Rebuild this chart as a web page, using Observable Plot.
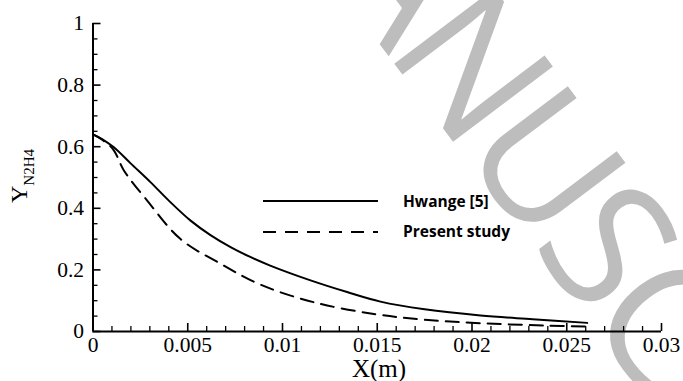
<!DOCTYPE html>
<html>
<head>
<meta charset="utf-8">
<script src="https://cdn.jsdelivr.net/npm/d3@7"></script>
<script src="https://cdn.jsdelivr.net/npm/@observablehq/plot@0.6"></script>
<style>
  html, body { margin: 0; padding: 0; background: #fff; }
  #wrap { position: relative; width: 683px; height: 381px; overflow: hidden; background: #fff; }
  #wrap > svg { position: absolute; left: 0; top: 0; }
</style>
</head>
<body>
<div id="wrap"></div>
<script>
// ---- data ----
const hwangX = [0, 0.0005, 0.0011, 0.002, 0.00303, 0.004, 0.00515, 0.0062, 0.00726, 0.0083, 0.00935, 0.01148, 0.01341, 0.01517, 0.0175, 0.02045, 0.0232, 0.02608];
const hwangY = [0.640, 0.624, 0.598, 0.545, 0.485, 0.425, 0.360, 0.313, 0.274, 0.242, 0.214, 0.166, 0.128, 0.097, 0.072, 0.052, 0.040, 0.028];
const presentX = [0, 0.0005, 0.00108, 0.00163, 0.00286, 0.00462, 0.00673, 0.00884, 0.01165, 0.01482, 0.0175, 0.02045, 0.02397, 0.02608];
const presentY = [0.640, 0.622, 0.590, 0.523, 0.425, 0.300, 0.220, 0.152, 0.095, 0.057, 0.038, 0.027, 0.019, 0.016];
const seriesNames = ["Hwange [5]", "Present study"];
const xTicks = [0, 0.005, 0.01, 0.015, 0.02, 0.025, 0.03];
const xTickLabels = ["0", "0.005", "0.01", "0.015", "0.02", "0.025", "0.03"];
const yTicks = [0, 0.2, 0.4, 0.6, 0.8, 1];
const yTickLabels = ["0", "0.2", "0.4", "0.6", "0.8", "1"];
const xMinorTicks = d3.range(0, 0.03001, 0.001).filter(v => xTicks.every(t => Math.abs(t - v) > 1e-9));
const yMinorTicks = d3.range(0, 1.0001, 0.05).filter(v => yTicks.every(t => Math.abs(t - v) > 1e-9));
const xLabel = "X(m)";
const yLabelMain = "Y";
const yLabelSub = "N2H4";
const watermarkText = "MANUSCRIPT";

// ---- layout ----
const W = 683, H = 381;
const ML = 92.5, MR = 22, MT = 23, MB = 50;
const xPerPx = 0.03 / (W - ML - MR);
const yPerPx = 1 / (H - MT - MB);
const majorLen = 8, minorLen = 5;

const hwang = hwangX.map((x, i) => ({x, y: hwangY[i]}));
const present = presentX.map((x, i) => ({x, y: presentY[i]}));

const wrap = document.getElementById("wrap");
const ns = "http://www.w3.org/2000/svg";

// watermark (behind the chart), clipped by the picture edge like the reference
const wm = document.createElementNS(ns, "svg");
wm.setAttribute("width", W); wm.setAttribute("height", H);
wrap.appendChild(wm);
const wt = document.createElementNS(ns, "text");
wt.textContent = watermarkText;
wt.setAttribute("font-family", "'Open Sans', sans-serif");
wt.setAttribute("font-size", 175);
wt.setAttribute("font-weight", 400);
wt.setAttribute("letter-spacing", -8);
wt.setAttribute("fill", "#bdbdbd");
wm.appendChild(wt);
const nIdx = watermarkText.indexOf("N");
const nPos = wt.getStartPositionOfChar(nIdx);
wt.setAttribute("transform", `translate(384,50) rotate(53) translate(${-nPos.x},0)`);

const font = "'Liberation Serif', 'Times New Roman', serif";
const plot = Plot.plot({
  width: W, height: H,
  marginLeft: ML, marginRight: MR, marginTop: MT, marginBottom: MB,
  x: {domain: [0, 0.03]},
  y: {domain: [0, 1]},
  style: {background: "transparent", fontFamily: font, fontSize: "21.5px", color: "#000", overflow: "visible"},
  marks: [
    Plot.axisX({ticks: xTicks, tickSize: 0, tickPadding: 5, tickFormat: d => xTickLabels[xTicks.indexOf(d)], label: null, fontSize: 21.5}),
    Plot.axisY({ticks: yTicks, tickSize: 0, tickPadding: 9, tickFormat: d => yTickLabels[yTicks.indexOf(d)], label: null, fontSize: 21.5}),
    Plot.ruleX(xMinorTicks, {x: d => d, y1: 0, y2: minorLen * yPerPx, stroke: "#000", strokeWidth: 1.3}),
    Plot.ruleX(xTicks, {x: d => d, y1: 0, y2: majorLen * yPerPx, stroke: "#000", strokeWidth: 1.6}),
    Plot.ruleY(yMinorTicks, {y: d => d, x1: 0, x2: minorLen * xPerPx, stroke: "#000", strokeWidth: 1.3}),
    Plot.ruleY(yTicks, {y: d => d, x1: 0, x2: majorLen * xPerPx, stroke: "#000", strokeWidth: 1.6}),
    Plot.ruleY([0], {x1: 0, x2: 0.03, stroke: "#000", strokeWidth: 2}),
    Plot.ruleX([0], {y1: 0, y2: 1, stroke: "#000", strokeWidth: 2}),
    Plot.line(hwang, {x: "x", y: "y", stroke: "#000", strokeWidth: 2, curve: "catmull-rom"}),
    Plot.line(present, {x: "x", y: "y", stroke: "#000", strokeWidth: 2, strokeDasharray: "13,8", curve: "catmull-rom"})
  ]
});
wrap.appendChild(plot);

// front overlay: axis titles + legend
const fo = document.createElementNS(ns, "svg");
fo.setAttribute("width", W); fo.setAttribute("height", H);
wrap.appendChild(fo);
function el(name, attrs, text) {
  const e = document.createElementNS(ns, name);
  for (const k in attrs) e.setAttribute(k, attrs[k]);
  if (text != null) e.textContent = text;
  return e;
}
fo.appendChild(el("text", {x: 379, y: 377, "text-anchor": "middle", "font-family": font, "font-size": 25}, xLabel));
const yl = el("text", {transform: "translate(27,176) rotate(-90)", "text-anchor": "middle", "font-family": font, "font-size": 24});
yl.appendChild(el("tspan", {}, yLabelMain));
yl.appendChild(el("tspan", {dy: 7, "font-size": 15}, yLabelSub));
fo.appendChild(yl);
// legend
const legendFont = "'Open Sans', sans-serif";
fo.appendChild(el("line", {x1: 263, x2: 378, y1: 201, y2: 201, stroke: "#000", "stroke-width": 2}));
fo.appendChild(el("line", {x1: 263, x2: 378, y1: 232, y2: 232, stroke: "#000", "stroke-width": 2, "stroke-dasharray": "13,9"}));
fo.appendChild(el("text", {x: 403, y: 201, dy: "0.36em", "font-family": legendFont, "font-weight": 700, "font-size": 15.5}, seriesNames[0]));
fo.appendChild(el("text", {x: 403, y: 231, dy: "0.36em", "font-family": legendFont, "font-weight": 700, "font-size": 15.5}, seriesNames[1]));
</script>
</body>
</html>
